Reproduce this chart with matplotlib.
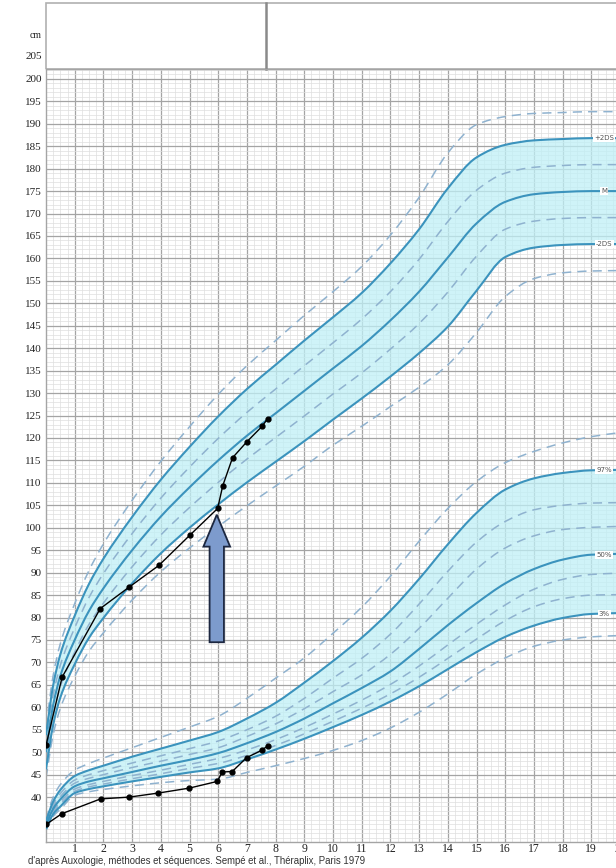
import matplotlib
matplotlib.use("Agg")
import numpy as np
import matplotlib.pyplot as plt
from matplotlib.patches import Rectangle, FancyArrow, PathPatch
from matplotlib.path import Path
from matplotlib.ticker import MultipleLocator

# ---- reference curves: height (cm), in standard deviations ----
ref_ages = [0, 0.25, 0.5, 1, 1.5, 2, 3, 4, 5, 6, 7, 8, 9, 10, 11, 12, 13, 14, 15, 16, 17, 18, 19, 20]

height_plus3 = [55.7, 67.1, 74.2, 83.1, 90.5, 96.4, 106.1, 114.8, 122.5, 129.7, 136.1, 141.7, 147.3, 152.6, 158.2, 165.2, 173.6, 183.5, 189.8, 191.6, 192.3, 192.5, 192.7, 192.7]
height_plus2 = [53.8, 64.9, 71.8, 80.4, 87.5, 93.1, 102.4, 110.7, 118.0, 124.8, 130.9, 136.3, 141.7, 146.9, 152.3, 158.9, 166.5, 175.6, 182.5, 185.3, 186.3, 186.6, 186.8, 186.8]
height_plus1 = [51.9, 62.7, 69.4, 77.7, 84.5, 89.8, 98.7, 106.6, 113.5, 119.9, 125.7, 130.9, 136.1, 141.2, 146.5, 152.6, 159.8, 168.2, 175.2, 179.0, 180.3, 180.7, 180.9, 180.9]
height_mean = [50.0, 60.5, 67.0, 75.0, 81.5, 86.5, 95.0, 102.5, 109.0, 115.0, 120.5, 125.5, 130.5, 135.5, 140.5, 146.2, 152.6, 160.2, 167.8, 172.6, 174.3, 174.8, 175.0, 175.0]
height_minus1 = [48.1, 58.3, 64.6, 72.3, 78.5, 83.2, 91.3, 98.4, 104.5, 110.1, 115.3, 120.1, 124.9, 129.8, 134.5, 139.8, 145.5, 152.5, 160.5, 166.5, 168.3, 168.9, 169.1, 169.1]
height_minus2 = [46.2, 56.1, 62.2, 69.6, 75.5, 79.9, 87.6, 94.3, 100.0, 105.2, 110.1, 114.7, 119.3, 124.1, 128.8, 133.7, 138.9, 144.8, 152.8, 160.3, 162.4, 163.0, 163.2, 163.2]
height_minus3 = [44.3, 53.9, 59.8, 66.9, 72.5, 76.6, 83.9, 90.2, 95.5, 100.3, 104.9, 109.3, 113.7, 118.4, 122.6, 127.0, 131.3, 136.3, 143.5, 151.5, 155.5, 156.8, 157.2, 157.3]

# ---- reference curves: weight, in percentiles (plotted on the same grid) ----
weight_top = [35.0, 40.0, 42.8, 46.0, 47.5, 48.7, 51.0, 53.3, 55.6, 58.0, 62.0, 66.5, 71.0, 76.5, 82.3, 89.2, 97.0, 104.3, 110.3, 114.5, 117.0, 118.9, 120.3, 121.2]
weight_p97 = [34.7, 39.0, 41.6, 44.7, 46.0, 47.0, 49.0, 50.8, 52.6, 54.5, 57.5, 61.0, 65.5, 70.3, 75.5, 81.5, 88.6, 96.3, 103.3, 108.5, 111.0, 112.2, 112.8, 112.9]
weight_p90 = [34.4, 38.4, 40.8, 43.8, 45.0, 45.9, 47.6, 49.2, 50.8, 52.5, 55.0, 58.0, 62.0, 66.5, 70.9, 76.3, 83.0, 90.3, 96.8, 101.4, 104.0, 105.0, 105.5, 105.6]
weight_p75 = [34.1, 37.9, 40.1, 43.1, 44.2, 45.0, 46.6, 48.0, 49.5, 51.0, 53.5, 56.3, 59.7, 63.5, 67.2, 71.8, 77.6, 84.3, 90.8, 95.5, 98.2, 99.6, 100.1, 100.3]
weight_p50 = [33.8, 37.4, 39.5, 42.4, 43.5, 44.2, 45.6, 47.0, 48.3, 49.8, 52.0, 54.5, 57.5, 60.9, 64.3, 68.0, 73.0, 78.3, 83.2, 87.6, 90.8, 92.9, 94.0, 94.2]
weight_p25 = [33.5, 37.0, 38.9, 41.8, 42.8, 43.5, 44.8, 46.0, 47.3, 48.6, 50.5, 52.8, 55.5, 58.5, 61.6, 65.1, 69.2, 73.9, 78.5, 82.8, 86.3, 88.5, 89.6, 89.9]
weight_p10 = [33.2, 36.6, 38.4, 41.3, 42.3, 42.9, 44.1, 45.2, 46.4, 47.5, 49.3, 51.5, 54.1, 56.9, 59.8, 63.0, 66.7, 70.9, 75.2, 79.3, 82.4, 84.2, 85.0, 85.1]
weight_p3 = [32.9, 36.2, 37.9, 40.9, 41.8, 42.4, 43.5, 44.5, 45.5, 46.4, 48.4, 50.6, 53.0, 55.6, 58.3, 61.3, 64.7, 68.5, 72.3, 75.7, 78.2, 79.9, 80.8, 81.0]
weight_bottom = [32.6, 35.7, 37.3, 40.4, 41.2, 41.7, 42.5, 43.2, 43.7, 44.0, 45.5, 47.0, 48.6, 50.4, 52.6, 55.4, 58.9, 63.0, 67.4, 71.0, 73.6, 75.0, 75.7, 76.0]

# ---- child's measurements ----
height_ages = [0, 0.56, 1.89, 2.9, 3.93, 5.02, 5.98, 6.16, 6.5, 6.99, 7.53, 7.72]
height_values = [51.5, 66.7, 82.0, 86.8, 91.6, 98.4, 104.3, 109.4, 115.6, 119.1, 122.6, 124.3]
weight_ages = [0, 0.55, 1.9, 2.9, 3.91, 4.99, 5.97, 6.14, 6.49, 6.99, 7.51, 7.72]
weight_values = [33.9, 36.3, 39.6, 40.0, 40.9, 42.0, 43.5, 45.6, 45.7, 48.8, 50.4, 51.4]

# labels
year_ticks = list(range(1, 21))
cm_ticks = list(range(40, 201, 5))
height_labels = ["+2DS", "M", "-2DS"]
weight_labels = ["97%", "50%", "3%"]
footer = "d'après Auxologie, méthodes et séquences. Sempé et al., Théraplix, Paris 1979"

# ---- styling ----
SOLID = "#3b93bd"
DASHED = "#8fb2cf"
FILL = "#bff0f6"
GRID_MAJOR = "#a4a4a4"
GRID_MINOR = "#dedede"
SERIF = ["Liberation Serif", "DejaVu Serif"]


def bezier_vertices(xs, ys):
    """Monotone cubic (Fritsch-Carlson) tangents turned into Bezier segments."""
    xs = np.asarray(xs, float)
    ys = np.asarray(ys, float)
    h = np.diff(xs)
    d = np.diff(ys) / h
    m = np.zeros_like(ys)
    m[0], m[-1] = d[0], d[-1]
    for i in range(1, len(xs) - 1):
        if d[i - 1] * d[i] <= 0:
            m[i] = 0.0
        else:
            w1 = 2 * h[i] + h[i - 1]
            w2 = h[i] + 2 * h[i - 1]
            m[i] = (w1 + w2) / (w1 / d[i - 1] + w2 / d[i])
    verts = [(xs[0], ys[0])]
    for i in range(len(xs) - 1):
        verts.append((xs[i] + h[i] / 3, ys[i] + m[i] * h[i] / 3))
        verts.append((xs[i + 1] - h[i] / 3, ys[i + 1] - m[i + 1] * h[i] / 3))
        verts.append((xs[i + 1], ys[i + 1]))
    return verts


def curve_path(xs, ys):
    v = bezier_vertices(xs, ys)
    return Path(v, [Path.MOVETO] + [Path.CURVE4] * (len(v) - 1))


def band_path(xs, lower, upper):
    up = bezier_vertices(xs, upper)
    lo = bezier_vertices(xs, lower)[::-1]
    verts = up + lo + [up[0]]
    codes = ([Path.MOVETO] + [Path.CURVE4] * (len(up) - 1)
             + [Path.LINETO] + [Path.CURVE4] * (len(lo) - 1) + [Path.CLOSEPOLY])
    return Path(verts, codes)


W, H = 616, 868
fig = plt.figure(figsize=(W / 100, H / 100), dpi=100)
fig.patch.set_facecolor("white")

left_px, right_px, top_px, bottom_px = 46, 620, 69, 842
ax = fig.add_axes([left_px / W, (H - bottom_px) / H,
                   (right_px - left_px) / W, (bottom_px - top_px) / H])
ax.set_xlim(0, 20)
ax.set_ylim(30, 202.2)

ax.xaxis.set_major_locator(MultipleLocator(1))
ax.xaxis.set_minor_locator(MultipleLocator(0.25))
ax.yaxis.set_major_locator(MultipleLocator(5))
ax.yaxis.set_minor_locator(MultipleLocator(1))
ax.grid(which="minor", color=GRID_MINOR, lw=0.5, zorder=0)
ax.grid(which="major", color=GRID_MAJOR, lw=0.9, zorder=0)
ax.set_axisbelow(True)
for s in ax.spines.values():
    s.set_color(GRID_MAJOR)
    s.set_linewidth(1.0)

ax.set_xticks(year_ticks)
ax.set_xticklabels([str(t) for t in year_ticks], fontfamily=SERIF, fontsize=8.5, color="#222222")
ax.set_yticks(cm_ticks)
ax.set_yticklabels([str(t) for t in cm_ticks], fontfamily=SERIF, fontsize=8, color="#222222")
ax.tick_params(axis="both", which="both", length=0)
ax.tick_params(axis="y", pad=3)
ax.tick_params(axis="x", pad=1)

# shaded normal ranges
ax.add_patch(PathPatch(band_path(ref_ages, height_minus2, height_plus2),
                       fc=FILL, ec="none", alpha=0.75, zorder=1))
ax.add_patch(PathPatch(band_path(ref_ages, weight_p3, weight_p97),
                       fc=FILL, ec="none", alpha=0.75, zorder=1))

dash = (0, (6, 4))
dashed_curves = (height_plus3, height_plus1, height_minus1, height_minus3,
                 weight_top, weight_p90, weight_p75, weight_p25, weight_p10, weight_bottom)
for curve in dashed_curves:
    ax.add_patch(PathPatch(curve_path(ref_ages, curve), fill=False, ec=DASHED,
                           lw=1.1, ls=dash, zorder=2))
for curve in (height_plus2, height_mean, height_minus2, weight_p97, weight_p50, weight_p3):
    ax.add_patch(PathPatch(curve_path(ref_ages, curve), fill=False, ec=SOLID,
                           lw=1.5, zorder=3))

# curve labels near the right edge
label_box = dict(boxstyle="square,pad=0.15", fc="white", ec="none")
for curve, lab in zip((height_plus2, height_mean, height_minus2), height_labels):
    ax.text(19.45, curve[-2], lab, fontsize=5, color="#555555", ha="center", va="center",
            bbox=label_box, zorder=4)
for curve, lab in zip((weight_p97, weight_p50, weight_p3), weight_labels):
    ax.text(19.45, curve[-2], lab, fontsize=5, color="#555555", ha="center", va="center",
            bbox=label_box, zorder=4)

# child's growth
ax.plot(height_ages, height_values, color="black", lw=1.0, marker="o", ms=3.5, zorder=6)
ax.plot(weight_ages, weight_values, color="black", lw=1.0, marker="o", ms=3.5, zorder=6)

# arrow marking the change at 6 years
ax.add_patch(FancyArrow(5.95, 74.5, 0, 28.4, width=0.5, head_width=0.93, head_length=7.1,
                        length_includes_head=True, fc="#7d9bcd", ec="#1c2740", lw=1.3, zorder=7))

# header box above the grid
hdr_h = (top_px - 3) / (bottom_px - top_px)
ax.add_patch(Rectangle((0, 1), 1.02, hdr_h, transform=ax.transAxes, fill=False,
                       ec="#b0b0b0", lw=1.2, clip_on=False))
ax.plot([7.67, 7.67], [1, 1 + hdr_h], transform=ax.get_xaxis_transform(), color="#8a8a8a",
        lw=1.8, clip_on=False)
ax.text(-0.007, 204.9, "205", transform=ax.get_yaxis_transform(), ha="right", va="center",
        fontfamily=SERIF, fontsize=8, color="#222222")
ax.text(-0.007, 209.6, "cm", transform=ax.get_yaxis_transform(), ha="right", va="center",
        fontfamily=SERIF, fontsize=7, color="#222222")

fig.text(28 / W, 1 - 861 / H, footer, fontfamily=["Liberation Sans", "DejaVu Sans"],
         fontsize=6.9, color="#333333", ha="left", va="center")

fig.savefig("out.png", dpi=100, facecolor="white")
